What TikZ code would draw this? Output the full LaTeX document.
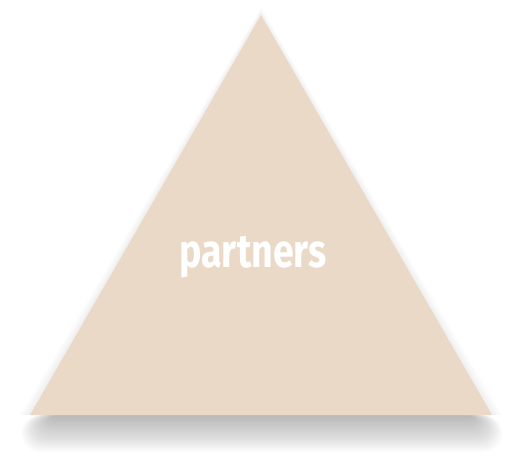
\documentclass[tikz,border=0pt]{standalone}
\usepackage{fontspec}
\newfontfamily\pf[FakeStretch=0.8]{Fira Sans}
\definecolor{tri}{HTML}{EAD9C6}
\begin{document}
\begin{tikzpicture}[x=1pt,y=-1pt,
  trishape/.style={fill=tri,draw=none},
  lbl/.style={text=white,font=\pf\bfseries\fontsize{47}{47}\selectfont,inner sep=0pt}]
\useasboundingbox (0,0) rectangle (524,462);
\foreach \i in {0,...,19}{
  \fill[black,opacity=0.016,rounded corners={4pt+\i*0.8pt}]
    ({52-\i*1.6},415) rectangle ({472+\i*1.6},{418+\i*1.8});
}
\foreach \i in {0,...,5}{
  \fill[black,opacity=0.01]
    ({261},{15-\i*1.5}) -- ({30-\i*2},{415}) -- ({492+\i*2},{415}) -- cycle;
}
\coordinate (apex) at (261,15);
\coordinate (bl) at (30,415);
\coordinate (br) at (492,415);
\fill[trishape] (apex) -- (bl) -- (br) -- cycle;
\node[lbl] (t) at (253,257) {partners};
\end{tikzpicture}
\end{document}
